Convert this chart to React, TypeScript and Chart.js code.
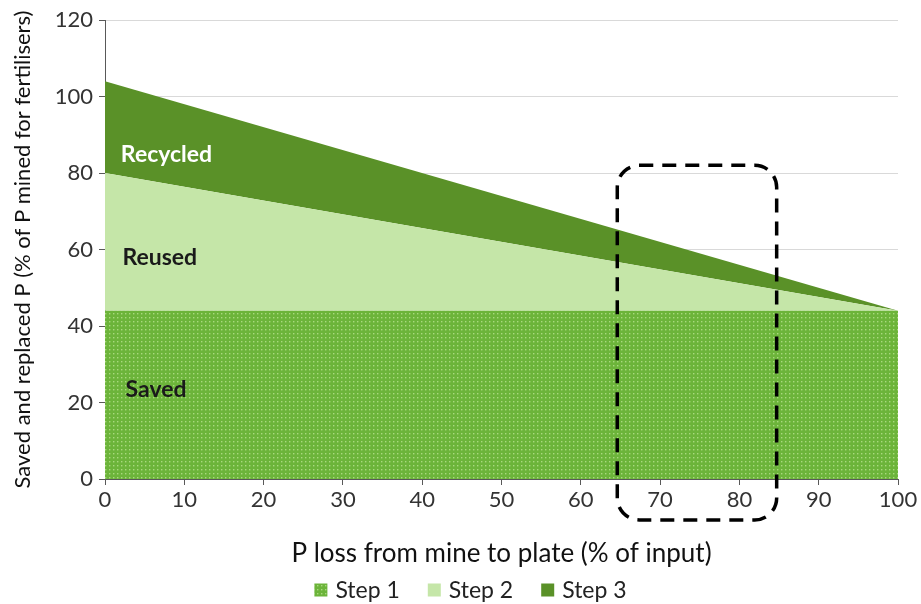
import React, { useEffect, useRef } from "react";
import { Chart, registerables } from "chart.js";

Chart.register(...registerables);

// ---- data ----
const xLoss: number[] = [0, 100];
const step1Saved: number[] = [44, 44];
const step2Reused: number[] = [80, 44];
const step3Recycled: number[] = [104, 44];
const seriesNames: string[] = ["Step 1", "Step 2", "Step 3"];
const areaLabels: string[] = ["Recycled", "Reused", "Saved"];
const areaLabelX: number[] = [2, 2.2, 2.6];
const areaLabelY: number[] = [84.7, 58, 23.3];
const highlightX: number[] = [64.6, 84.7];
const highlightY: number[] = [-10.7, 82];

const FONT = "Lato, 'Open Sans', 'DejaVu Sans', sans-serif";

function makeDots(): CanvasPattern | string {
  const c = document.createElement("canvas");
  c.width = 4;
  c.height = 4;
  const g = c.getContext("2d");
  if (!g) return "#6db33f";
  g.fillStyle = "#6cb43a";
  g.fillRect(0, 0, 4, 4);
  g.fillStyle = "rgba(190,230,150,0.75)";
  g.fillRect(1, 1, 1.4, 1.4);
  const p = g.createPattern(c, "repeat");
  return p || "#6db33f";
}

const overlayPlugin = {
  id: "overlay",
  afterDatasetsDraw(chart: any) {
    const ctx = chart.ctx as CanvasRenderingContext2D;
    const xs = chart.scales.x;
    const ys = chart.scales.y;
    ctx.save();
    ctx.font = `bold 23px ${FONT}`;
    ctx.textBaseline = "middle";
    ctx.textAlign = "left";
    areaLabels.forEach((t, i) => {
      ctx.fillStyle = i === 0 ? "#ffffff" : "#1a1a1a";
      ctx.fillText(t, xs.getPixelForValue(areaLabelX[i]), ys.getPixelForValue(areaLabelY[i]));
    });
    const x0 = xs.getPixelForValue(highlightX[0]);
    const x1 = xs.getPixelForValue(highlightX[1]);
    const y0 = ys.getPixelForValue(highlightY[1]);
    const y1 = ys.getPixelForValue(highlightY[0]);
    ctx.setLineDash([14, 9]);
    ctx.lineWidth = 3.5;
    ctx.strokeStyle = "#000000";
    ctx.beginPath();
    (ctx as any).roundRect(x0, y0, x1 - x0, y1 - y0, 22);
    ctx.stroke();
    ctx.restore();
  },
  afterDraw(chart: any) {
    const ctx = chart.ctx as CanvasRenderingContext2D;
    const ds = chart.data.datasets;
    ctx.save();
    ctx.font = `23px ${FONT}`;
    ctx.textBaseline = "middle";
    ctx.textAlign = "left";
    const box = 13;
    const gapBoxText = 8;
    const gapItems = 28;
    const widths = ds.map((d: any) => box + gapBoxText + ctx.measureText(d.label).width);
    const total = widths.reduce((a: number, b: number) => a + b, 0) + gapItems * (ds.length - 1);
    const cy = chart.height - 14;
    let x = chart.width / 2 + 10 - total / 2;
    ds.forEach((d: any, i: number) => {
      ctx.fillStyle = d.backgroundColor;
      ctx.fillRect(x, cy - box / 2, box, box);
      ctx.fillStyle = "#222";
      ctx.fillText(d.label, x + box + gapBoxText, cy + 1);
      x += widths[i] + gapItems;
    });
    ctx.restore();
  },
};

export default function App() {
  const ref = useRef<HTMLCanvasElement | null>(null);
  useEffect(() => {
    if (!ref.current) return;
    const dots = makeDots();
    const mk = (vals: number[]) => xLoss.map((x, i) => ({ x, y: vals[i] }));
    const chart = new Chart(ref.current, {
      type: "line",
      data: {
        datasets: [
          {
            label: seriesNames[0],
            data: mk(step1Saved),
            backgroundColor: dots as any,
            borderColor: "rgba(0,0,0,0)",
            borderWidth: 0,
            pointRadius: 0,
            fill: "origin",
          },
          {
            label: seriesNames[1],
            data: mk(step2Reused),
            backgroundColor: "#c5e6a8",
            borderColor: "rgba(0,0,0,0)",
            borderWidth: 0,
            pointRadius: 0,
            fill: "-1",
          },
          {
            label: seriesNames[2],
            data: mk(step3Recycled),
            backgroundColor: "#5a9128",
            borderColor: "rgba(0,0,0,0)",
            borderWidth: 0,
            pointRadius: 0,
            fill: "-1",
          },
        ],
      },
      options: {
        animation: false,
        responsive: false,
        maintainAspectRatio: false,
        layout: { padding: { left: 0, right: 23, top: 20, bottom: 35 } },
        plugins: {
          legend: { display: false },
          tooltip: { enabled: false },
        },
        scales: {
          x: {
            type: "linear",
            min: 0,
            max: 100,
            ticks: { stepSize: 10, color: "#333", font: { family: FONT, size: 22 }, padding: 2 },
            grid: { drawOnChartArea: false, tickLength: 6, tickColor: "#595959" },
            border: { color: "#595959", width: 1 },
            title: {
              display: true,
              text: "P loss from mine to plate (% of input)",
              color: "#111",
              font: { family: FONT, size: 26 },
              padding: { top: 8, bottom: 0 },
            },
            afterFit: (s: any) => {
              s.height = 90;
            },
          },
          y: {
            min: 0,
            max: 120,
            ticks: { stepSize: 20, color: "#333", font: { family: FONT, size: 22 }, padding: 6 },
            grid: { color: "#d9d9d9", tickLength: 6, tickColor: "#595959" },
            border: { color: "#595959", width: 1 },
            title: {
              display: true,
              text: "Saved and replaced P (% of P mined for fertilisers)",
              color: "#111",
              font: { family: FONT, size: 22 },
              padding: { top: 10, bottom: 4 },
            },
            afterFit: (s: any) => {
              s.width = 105;
            },
          },
        },
      },
      plugins: [overlayPlugin],
    });
    return () => chart.destroy();
  }, []);
  return (
    <div style={{ position: "absolute", left: 0, top: 0, width: 921, height: 604, background: "#fff" }}>
      <canvas ref={ref} width={921} height={604} style={{ width: 921, height: 604 }} />
    </div>
  );
}
